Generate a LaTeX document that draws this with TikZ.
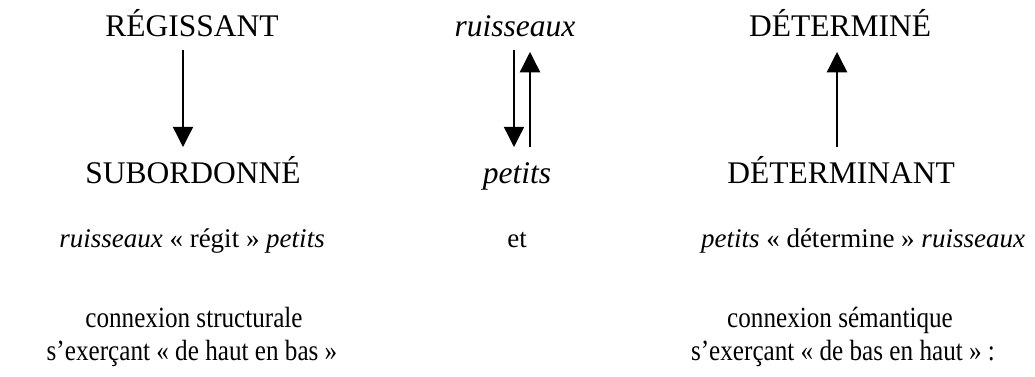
\documentclass[tikz,border=0pt]{standalone}
\usepackage{fontspec}
\usepackage{graphicx}
\setmainfont{Liberation Serif}
\usetikzlibrary{arrows.meta,calc}

\newcommand{\etroit}[1]{\scalebox{0.86}[1]{#1}}

\tikzset{
  titre/.style={anchor=base,inner sep=0pt,font=\fontsize{14}{16}\selectfont},
  texte/.style={anchor=base,inner sep=0pt,font=\fontsize{12}{14}\selectfont},
  legende/.style={anchor=base,inner sep=0pt,font=\fontsize{13}{15}\selectfont},
  fleche/.style={line width=0.6pt,-{Triangle[length=9pt,width=9pt]}}
}

\begin{document}
\begin{tikzpicture}[x=0.4444pt,y=-0.4444pt]
            \useasboundingbox (0,0) rectangle (1035,376);
            \node[titre] (regissant) at (192,36) {RÉGISSANT};
            \node[titre] (subordonne) at (193,183) {SUBORDONNÉ};
            \node[titre] (ruis) at (515,36) {\itshape ruisseaux};
            \node[titre] (pet) at (517,183) {\itshape petits};
            \node[titre] (determine) at (840,36) {DÉTERMINÉ};
            \node[titre] (determinant) at (841,183) {DÉTERMINANT};
            \draw[fleche] ($(regissant.base)+(-9,14)$) -- ($(subordonne.base)+(-10,-36)$);
            \draw[fleche] ($(ruis.base)+(-1,14)$) -- ($(pet.base)+(-3,-36)$);
            \draw[fleche] ($(pet.base)+(13,-36)$) -- ($(ruis.base)+(15,16)$);
            \draw[fleche] ($(determinant.base)+(-4,-36)$) -- ($(determine.base)+(-3,16)$);
            \node[texte] (regit) at (192,247) {\textit{ruisseaux} « régit » \textit{petits}};
            \node[texte] (et) at (517,247) {et};
            \node[texte] (determ) at (863,247) {\textit{petits} « détermine » \textit{ruisseaux}};
            \node[legende] (struct1) at (194,327) {\etroit{connexion structurale}};
            \node[legende] (struct2) at (192,360) {\etroit{s’exerçant « de haut en bas »}};
            \node[legende] (sem1) at (840,327) {\etroit{connexion sémantique}};
            \node[legende] (sem2) at (843,360) {\etroit{s’exerçant « de bas en haut » :}};
        \end{tikzpicture}
\end{document}
